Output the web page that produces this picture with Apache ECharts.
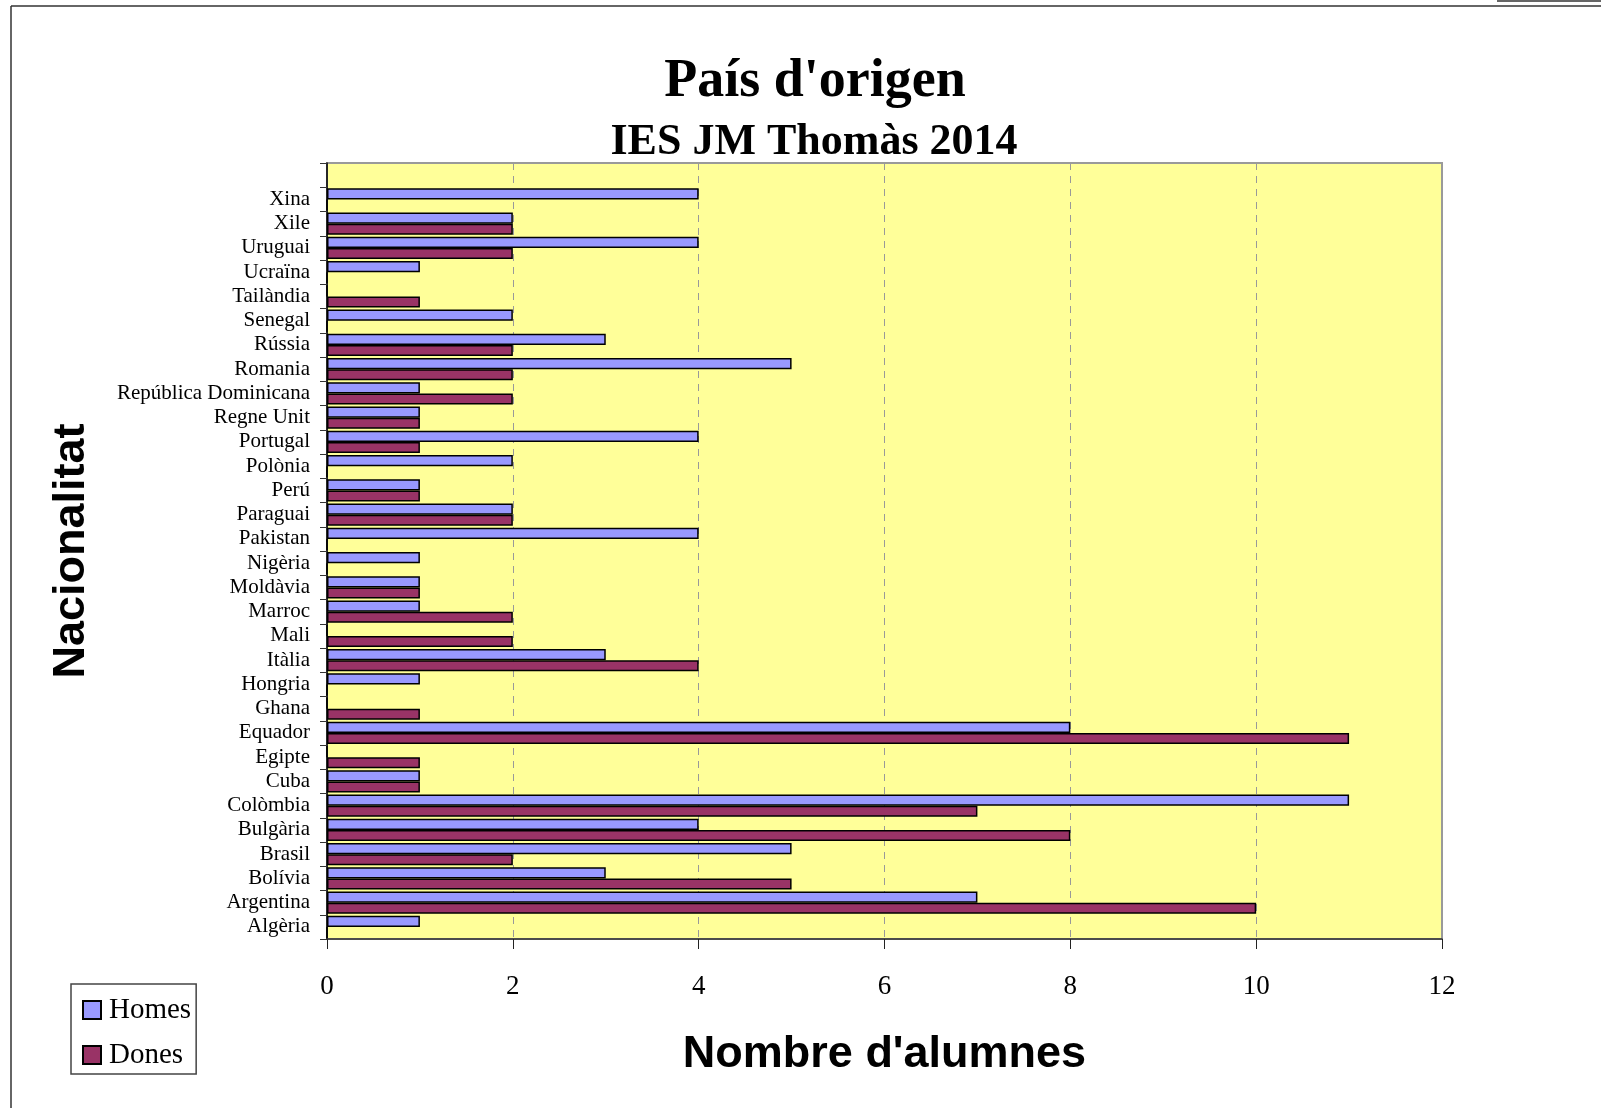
<!DOCTYPE html>
<html>
<head>
<meta charset="utf-8">
<script src="https://cdn.jsdelivr.net/npm/echarts@6/dist/echarts.min.js"></script>
<style>
html,body{margin:0;padding:0;background:#fff;}
#chart{width:1601px;height:1108px;}
</style>
</head>
<body>
<div id="chart"></div>
<script>
// Categories bottom to top (last one is an empty band at the top)
var categories = ['Algèria','Argentina','Bolívia','Brasil','Bulgària','Colòmbia','Cuba','Egipte','Equador','Ghana','Hongria','Itàlia','Mali','Marroc','Moldàvia','Nigèria','Pakistan','Paraguai','Perú','Polònia','Portugal','Regne Unit','República Dominicana','Romania','Rússia','Senegal','Tailàndia','Ucraïna','Uruguai','Xile','Xina',''];
var homes = [1,7,3,5,4,11,1,0,8,0,1,3,0,1,1,1,4,2,1,2,4,1,1,5,3,2,0,1,4,2,4,null];
var dones = [0,10,5,2,8,7,1,1,11,1,0,4,2,2,1,0,0,2,1,0,1,1,2,2,2,0,1,0,2,2,0,null];
var xTicks = [0,2,4,6,8,10,12];

var serif = '"Liberation Serif","Times New Roman",serif';
var sans = '"Liberation Sans",Arial,sans-serif';

var chart = echarts.init(document.getElementById('chart'));
chart.setOption({
  backgroundColor: '#ffffff',
  animation: false,
  title: [
    {text: "País d'origen", left: 810, top: 50, textAlign: 'center',
     textStyle: {fontFamily: serif, fontWeight: 'bold', fontSize: 54, color: '#000', lineHeight: 54}},
    {text: 'IES JM Thomàs 2014', left: 809, top: 116, textAlign: 'center',
     textStyle: {fontFamily: serif, fontWeight: 'bold', fontSize: 44, color: '#000', lineHeight: 44}}
  ],
  legend: {
    orient: 'vertical',
    left: 71, top: 984,
    data: ['Homes','Dones'],
    itemWidth: 18, itemHeight: 18, itemGap: 15, icon: 'rect',
    padding: [11, 5, 4, 11],
    borderColor: '#444', borderWidth: 1.5,
    backgroundColor: '#fff',
    textStyle: {fontFamily: serif, fontSize: 29, color: '#000', lineHeight: 30, padding: [0, 0, 0, 3]}
  },
  grid: {
    left: 327, right: 159, top: 163, bottom: 169,
    show: true, backgroundColor: '#FFFF99', borderColor: '#9a9a9a', borderWidth: 2
  },
  xAxis: {
    type: 'value', min: 0, max: 12, interval: 2,
    name: "Nombre d'alumnes", nameLocation: 'middle', nameGap: 93,
    nameTextStyle: {fontFamily: sans, fontWeight: 'bold', fontSize: 45, color: '#000'},
    axisLine: {show: true, lineStyle: {color: '#333', width: 1.5}},
    axisTick: {show: true, length: 10, lineStyle: {color: '#222', width: 1}},
    axisLabel: {margin: 34, fontFamily: serif, fontSize: 27, color: '#000',
      formatter: function(v){ return xTicks.indexOf(v) >= 0 ? String(v) : ''; }},
    splitLine: {show: true, lineStyle: {color: '#999', type: [7, 6], width: 1}}
  },
  yAxis: {
    type: 'category', data: categories,
    name: 'Nacionalitat', nameLocation: 'middle', nameGap: 233, nameRotate: 90,
    nameTextStyle: {fontFamily: sans, fontWeight: 'bold', fontSize: 45, color: '#000'},
    axisLine: {show: true, lineStyle: {color: '#000', width: 1.5}},
    axisTick: {show: true, length: 7, lineStyle: {color: '#333', width: 1}},
    axisLabel: {margin: 17, fontFamily: serif, fontSize: 21, color: '#000', interval: 0},
    splitLine: {show: false}
  },
  series: [
    {name: 'Homes', type: 'bar', data: homes, barGap: '0%', barCategoryGap: '8%',
     itemStyle: {color: '#9999FF', borderColor: '#000', borderWidth: 1.5}},
    {name: 'Dones', type: 'bar', data: dones, barGap: '0%', barCategoryGap: '8%',
     itemStyle: {color: '#993366', borderColor: '#000', borderWidth: 1.5}}
  ],
  graphic: [
    {type: 'line', shape: {x1: 11, y1: 6, x2: 1601, y2: 6}, style: {stroke: '#333', lineWidth: 1.5}, silent: true},
    {type: 'line', shape: {x1: 11, y1: 6, x2: 11, y2: 1108}, style: {stroke: '#333', lineWidth: 1.5}, silent: true},
    {type: 'line', shape: {x1: 1497, y1: 1, x2: 1601, y2: 1}, style: {stroke: '#333', lineWidth: 1.5}, silent: true}
  ]
});
</script>
</body>
</html>
